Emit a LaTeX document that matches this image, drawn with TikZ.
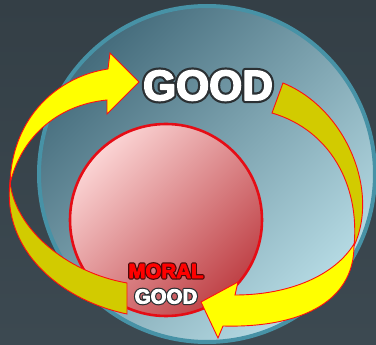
\documentclass[tikz,border=0pt]{standalone}
\usepackage{fontspec}
\newfontfamily\arialb{Liberation Sans}
\definecolor{bgtop}{HTML}{343F46}
\definecolor{bgbot}{HTML}{3C4951}
\definecolor{bigA}{HTML}{456C7C}
\definecolor{bigB}{HTML}{B8DDE6}
\definecolor{rim}{HTML}{4792A6}
\definecolor{redA}{HTML}{FBD4D4}
\definecolor{redB}{HTML}{BF4146}
\definecolor{redrim}{HTML}{E50D16}
\definecolor{yel}{HTML}{FFFF00}
\definecolor{darkyel}{HTML}{D2CB00}
\definecolor{arrowred}{HTML}{FF1010}
\definecolor{outdark}{HTML}{2B3034}
\definecolor{outmaroon}{HTML}{4A0A0A}
\definecolor{moralred}{HTML}{FF0000}
% stroked text: #1 stroke width, #2 stroke rgb, #3 text
\newcommand\strk[3]{\special{pdf:literal direct 2 Tr #1 w 1 j #2 RG}#3\special{pdf:literal direct 0 Tr}}
\begin{document}
\begin{tikzpicture}[x=1pt,y=-1pt,
  txt/.style={inner sep=0pt, outer sep=0pt},
  ribbon/.style={draw=arrowred, line width=0.9pt, line join=miter},
  disc/.style={circle, inner sep=0pt, outer sep=0pt},
  bigf/.style={font=\arialb\bfseries\fontsize{42.5}{42.5}\selectfont},
  smallf/.style={font=\arialb\bfseries\fontsize{20.5}{20.5}\selectfont},
]
\shade[top color=bgtop, bottom color=bgbot] (0,0) rectangle (376,345);
\useasboundingbox (0,0) rectangle (376,345);
\begin{scope}
\clip (0,0) rectangle (376,345);
% big circle
\node[disc, minimum size=336pt, draw=rim, line width=4pt,
  top color=bigA, bottom color=bigB, shading angle=45] (outer) at (207,174) {};
% red circle
\node[disc, minimum size=192pt, draw=redrim, line width=2.6pt,
  top color=redA, bottom color=redB, shading angle=45] (inner) at (166,220) {};
% left ribbon, back (dark) part
\filldraw[ribbon, fill=darkyel]
  (10,182) .. controls (2,250) and (60,300) .. (127,314)
  -- (127,283)
  .. controls (65,272) and (15,228) .. (10,182) -- cycle;
% left ribbon, front (bright) part with head
\filldraw[ribbon, fill=yel]
  (139,82) -- (110,53) -- (108,69)
  .. controls (60,76) and (12,115) .. (10,184)
  .. controls (20,140) and (55,105) .. (107,100)
  -- (107,114) -- cycle;
% right ribbon, back (dark) part
\filldraw[ribbon, fill=darkyel]
  (283,83) .. controls (345,108) and (380,190) .. (354,246)
  .. controls (360,185) and (330,130) .. (272,113) -- cycle;
% right ribbon, front (bright) part with head
\filldraw[ribbon, fill=yel]
  (354,244) .. controls (355,305) and (295,328) .. (223,326)
  -- (218,338) -- (201,302) -- (238,282) -- (235,295)
  .. controls (290,295) and (335,275) .. (354,244) -- cycle;
\end{scope}
% texts: dark outline layer, then fill layer
\node[txt, bigf, text=outdark] (goodo) at (208,85.5) {\strk{6}{0.17 0.19 0.2}{GOOD}};
\node[txt, bigf, text=white] (good) at (208,85.5) {\strk{1.6}{1 1 1}{GOOD}};
\node[txt, smallf, text=outmaroon] (moralo) at (166,271) {\strk{3.2}{0.29 0.04 0.04}{MORAL}};
\node[txt, smallf, text=moralred] (moral) at (166,271) {\strk{0.8}{1 0 0}{MORAL}};
\node[txt, smallf, text=outdark] (mgoodo) at (166,296.5) {\strk{3.2}{0.17 0.19 0.2}{GOOD}};
\node[txt, smallf, text=white] (mgood) at (166,296.5) {\strk{0.8}{1 1 1}{GOOD}};
\end{tikzpicture}
\end{document}
